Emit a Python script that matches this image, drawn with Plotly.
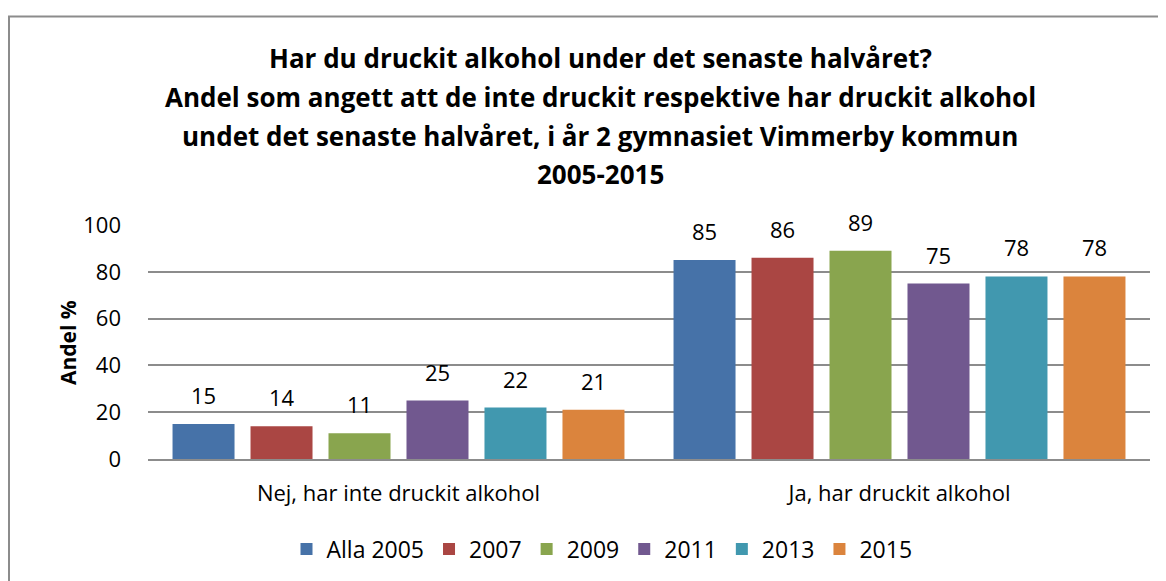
import plotly.graph_objects as go

categories = ["Nej, har inte druckit alkohol", "Ja, har druckit alkohol"]
series_names = ["Alla 2005", "2007", "2009", "2011", "2013", "2015"]
values_2005 = [15, 85]
values_2007 = [14, 86]
values_2009 = [11, 89]
values_2011 = [25, 75]
values_2013 = [22, 78]
values_2015 = [21, 78]
series_values = [values_2005, values_2007, values_2009, values_2011, values_2013, values_2015]
colors = ["#4672A8", "#AA4643", "#89A54E", "#71588F", "#4198AF", "#DB843D"]

title_lines = [
    "Har du druckit alkohol under det senaste halvåret?",
    "Andel som angett att de inte druckit respektive har druckit alkohol",
    "undet det senaste halvåret, i år 2 gymnasiet Vimmerby kommun",
    "2005-2015",
]

FONT = "Open Sans, sans-serif"
OFF = 8  # default page body margin
SW, SH = 1166, 581
W, H = SW - OFF, SH - OFF
# target screen pixel positions of plot area
P_LEFT, P_RIGHT, P_TOP, P_BOTTOM = 148, 1150, 224.5, 459.5
ML = P_LEFT - OFF
MR = W - (P_RIGHT - OFF)
MT = P_TOP - OFF
MB = H - (P_BOTTOM - OFF)
plot_w = P_RIGHT - P_LEFT
plot_h = P_BOTTOM - P_TOP
bargap = 0.066
bargroupgap = 0.205


def px(sx):
    return (sx - P_LEFT) / plot_w


def py(sy):
    return (P_BOTTOM - sy) / plot_h


fig = go.Figure()
for name, vals, col in zip(series_names, series_values, colors):
    fig.add_trace(go.Bar(x=categories, y=vals, name=name, marker_color=col,
                         marker_line_width=0))

annotations = []
n = len(series_names)
slot = (1 - bargap) / n
for i, vals in enumerate(series_values):
    for c, v in enumerate(vals):
        xc = c - (1 - bargap) / 2 + (i + 0.5) * slot
        annotations.append(dict(x=xc, y=v, xref="x", yref="y", text=str(v),
                                showarrow=False, yanchor="bottom", yshift=12,
                                font=dict(family=FONT, size=22, color="#000")))

title_y = [57, 96, 135, 173]
for t, yy in zip(title_lines, title_y):
    annotations.append(dict(x=px(600), y=py(yy), xref="paper", yref="paper",
                            text="<b>" + t + "</b>", showarrow=False,
                            xanchor="center", yanchor="middle",
                            font=dict(family=FONT, size=26, color="#000")))

annotations.append(dict(x=px(68), y=py(343), xref="paper", yref="paper",
                        text="<b>Andel %</b>", showarrow=False, textangle=-90,
                        xanchor="center", yanchor="middle",
                        font=dict(family=FONT, size=21, color="#000")))

fig.update_layout(
    width=W, height=H,
    margin=dict(l=ML, r=MR, t=MT, b=MB, autoexpand=False),
    paper_bgcolor="white", plot_bgcolor="white",
    barmode="group", bargap=bargap, bargroupgap=bargroupgap,
    font=dict(family=FONT, size=22, color="#000"),
    showlegend=True,
    legend=dict(orientation="h", xref="container", yref="container",
                x=(602 - OFF) / W, xanchor="center",
                y=1 - (549 - OFF) / H, yanchor="middle",
                font=dict(family=FONT, size=23, color="#000"),
                itemwidth=30, tracegroupgap=0),
    annotations=annotations,
    shapes=[dict(type="rect", xref="paper", yref="paper",
                 x0=px(9), x1=px(1180), y0=py(600), y1=py(15),
                 line=dict(color="#8C8C8C", width=2), layer="below")],
)
fig.update_yaxes(range=[0, 100], dtick=20, showgrid=True, gridcolor="#8C8C8C",
                 gridwidth=1.5, zeroline=False, showline=False,
                 ticklabelstandoff=26, tickfont=dict(family=FONT, size=22))
fig.update_xaxes(showline=True, linecolor="#8C8C8C", linewidth=1.5,
                 ticks="", ticklabelstandoff=14,
                 tickfont=dict(family=FONT, size=22))

fig.write_html("out.html")
